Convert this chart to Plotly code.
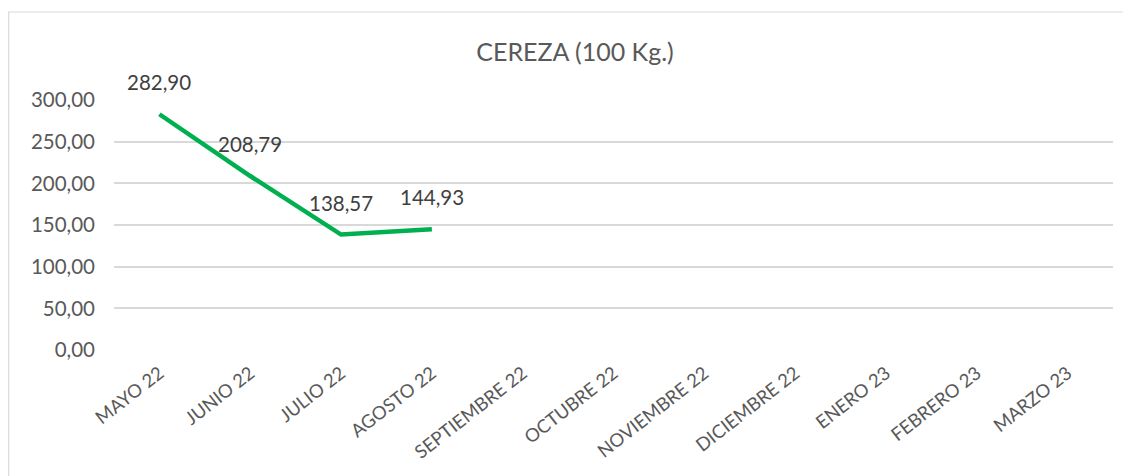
import plotly.graph_objects as go

months = ["MAYO 22", "JUNIO 22", "JULIO 22", "AGOSTO 22", "SEPTIEMBRE 22", "OCTUBRE 22",
          "NOVIEMBRE 22", "DICIEMBRE 22", "ENERO 23", "FEBRERO 23", "MARZO 23"]
price_months = ["MAYO 22", "JUNIO 22", "JULIO 22", "AGOSTO 22"]
prices = [282.90, 208.79, 138.57, 144.93]
y_ticks = [0, 50, 100, 150, 200, 250, 300]

FONT = "Lato"
GREY = "#595959"

# page has an 8px body margin; figure drawn from (8,8)
W, H = 1123, 468
PL, PR, PT, PB = 106, 1105, 92, 342  # plot area in figure coords

fig = go.Figure()
fig.add_trace(go.Scatter(
    x=price_months, y=prices, mode="lines",
    line=dict(color="#00B050", width=4.5),
    hoverinfo="skip", showlegend=False,
))

for m, v in zip(price_months, prices):
    fig.add_annotation(
        x=m, y=v, text=f"{v:.2f}".replace(".", ","),
        showarrow=False, yshift=32,
        font=dict(family=FONT, size=20.5, color="#404040"),
    )

fig.update_layout(
    width=W, height=H,
    margin=dict(l=PL, r=W - PR, t=PT, b=H - PB),
    paper_bgcolor="white", plot_bgcolor="white",
    separators=",.",
    title=dict(text="CEREZA (100 Kg.)", x=(575 - 8) / W, xanchor="center",
               y=1 - 44 / H, yanchor="middle",
               font=dict(family=FONT, size=25, color=GREY)),
    xaxis=dict(
        categoryorder="array", categoryarray=months, range=[-0.5, 10.5],
        tickmode="array", tickvals=months, ticktext=months,
        tickangle=-38, showgrid=False, zeroline=False, showline=False,
        ticks="", ticklabelstandoff=8,
        tickfont=dict(family=FONT, size=18.5, color=GREY),
    ),
    yaxis=dict(
        range=[0, 300], tickvals=y_ticks, tickformat=".2f",
        showgrid=True, gridcolor="#D9D9D9", gridwidth=1.5,
        zeroline=False, showline=False, ticks="", ticklabelstandoff=18,
        tickfont=dict(family=FONT, size=20.5, color=GREY),
    ),
)
fig.add_shape(type="rect", xref="paper", yref="paper",
              x0=(0.7 - PL) / (PR - PL), x1=(1140 - 8 - PL) / (PR - PL),
              y0=(PB - 500) / (PB - PT), y1=(PB - 4) / (PB - PT),
              line=dict(color="#D9D9D9", width=1.2), fillcolor="rgba(0,0,0,0)", layer="below")

fig.write_html("out.html")
